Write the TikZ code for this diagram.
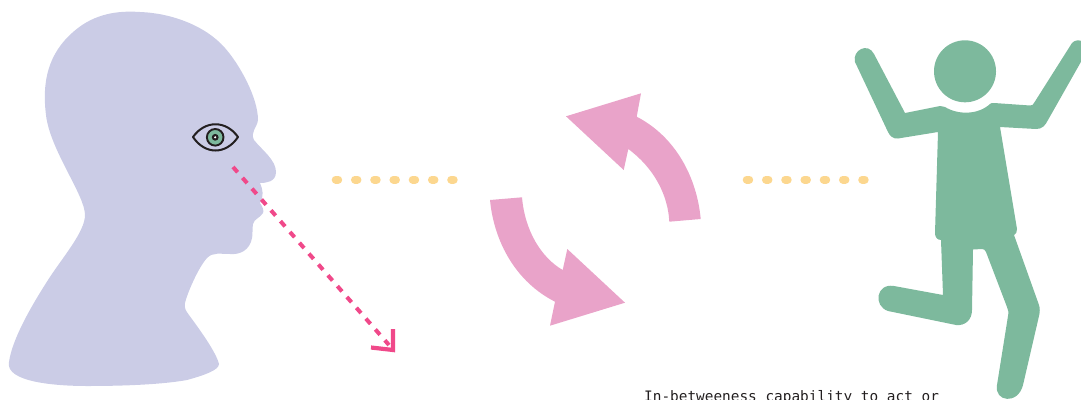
\documentclass[tikz,border=0pt]{standalone}
\usepackage{fontspec}
\setmainfont{DejaVu Sans Mono}
\definecolor{headc}{HTML}{CBCCE6}
\definecolor{figc}{HTML}{7DB99D}
\definecolor{arrc}{HTML}{E9A3C9}
\definecolor{dotc}{HTML}{FCD78F}
\definecolor{linec}{HTML}{F0498A}
\definecolor{inkc}{HTML}{231F20}
\tikzset{
  dotline/.style={dotc,line width=8pt,line cap=round,dash pattern=on 2.5pt off 16.75pt},
  swirl/.style={fill=arrc,draw=none},
}
\begin{document}
\begin{tikzpicture}[x=1pt,y=-1pt]
\useasboundingbox (0,0) rectangle (1081,399);
\clip (0,0) rectangle (1081,399);
% head
\fill[headc] (9,362) .. controls (12,340) and (30,308) .. (48,280)
 .. controls (62,258) and (85,232) .. (85,215)
 .. controls (85,195) and (50,150) .. (46,115)
 .. controls (41,75) and (52,48) .. (78,28)
 .. controls (100,11) and (125,11) .. (140,12)
 .. controls (170,13) and (205,25) .. (225,48)
 .. controls (240,65) and (258,98) .. (258,120)
 .. controls (257,128) and (250,132) .. (254,140)
 .. controls (262,150) and (276,160) .. (276,172)
 .. controls (276,182) and (266,183) .. (260,183)
 .. controls (263,190) and (264,196) .. (260,203)
 .. controls (263,207) and (264,211) .. (263,213)
 .. controls (260,218) and (254,219) .. (253,224)
 .. controls (252,230) and (253,234) .. (252,238)
 .. controls (250,250) and (240,255) .. (230,254)
 .. controls (220,254) and (213,252) .. (207,258)
 .. controls (198,268) and (187,294) .. (185,303)
 .. controls (184,308) and (186,311) .. (189,315)
 .. controls (200,330) and (216,352) .. (219,364)
 .. controls (219,370) and (205,375) .. (187,380)
 .. controls (165,384) and (130,386) .. (87,386)
 .. controls (55,386) and (5,382) .. (9,362) -- cycle;
% eye
\draw[inkc,line width=2pt,line join=round] (193,137) .. controls (205,120) and (226,120) .. (238,137) .. controls (226,155) and (205,155) .. (193,137) -- cycle;
\draw[inkc,line width=1.9pt,fill=figc] (215.2,137.3) circle (8.3);
\fill[inkc] (215.2,137.3) circle (3.4);
\fill[white] (215.2,137.3) circle (1.2);
% sight line
\coordinate (sa) at (233,167);
\coordinate (sb) at (389,345);
\draw[linec,line width=4pt,dash pattern=on 7pt off 7.4pt] (sa) -- (sb);
\draw[linec,line width=4.2pt,line join=miter] (393,329) -- (393,350) -- (371,347.5);
% dotted lines
\draw[dotline] (335.7,179.5) -- (456,179.5);
\draw[dotline] (746.7,179.5) -- (868,179.5);
% cycle arrows
\path[swirl] (700.7,219) .. controls (697,178) and (676,137) .. (636.7,116.7) -- (641,93.3) -- (566,116.3) -- (623.7,170) -- (628.3,149) .. controls (654,168) and (668,195) .. (669.3,221.7) -- cycle;
\path[swirl] (490,200) .. controls (494,242) and (516,282) .. (555,301.7) -- (550,325.7) -- (625,302.7) -- (567.3,249) -- (562.7,270) .. controls (542,258) and (525,232) .. (522,197.3) -- cycle;
% figure
\fill[figc] (965,71.3) circle (31);
\fill[figc] (855,62) .. controls (852,50) and (868,42) .. (874,54)
 -- (905,113) -- (940,106) .. controls (942,106) and (943,106) .. (945,107)
 .. controls (958,115) and (978,115) .. (990,104) .. controls (991,103) and (992,103) .. (994,103)
 -- (1030,105.5) .. controls (1032,105.5) and (1033,105) .. (1034,103)
 -- (1072,43) .. controls (1075,40) and (1078,40) .. (1082,41) -- (1082,60)
 -- (1048,120) .. controls (1045,126) and (1042,129) .. (1036,129)
 -- (1000,127) -- (1017,229) .. controls (1017,232) and (1016,234) .. (1014,235)
 -- (1039,305) .. controls (1040,308) and (1040,312) .. (1039,316)
 -- (1023,385) .. controls (1018,405) and (994,402) .. (997,385)
 -- (1008,316) .. controls (1009,312) and (1008,310) .. (1007,307)
 -- (986,252) .. controls (985,250) and (984,249) .. (982,249)
 -- (973,249.5) -- (972,310) .. controls (972,320) and (965,326) .. (956,325)
 -- (888,311) .. controls (873,306) and (876,283) .. (894,286)
 -- (943,295) -- (941,240) .. controls (937,240) and (935,237) .. (935,233)
 -- (938,132) -- (898,138.5) .. controls (893,139) and (890,136) .. (888,132) -- cycle;
% text
\node[anchor=base west,inner sep=0pt,font=\fontsize{14.4}{16}\selectfont,text=inkc] (cap) at (644,401) {In-betweeness capability to act or};
\end{tikzpicture}
\end{document}
